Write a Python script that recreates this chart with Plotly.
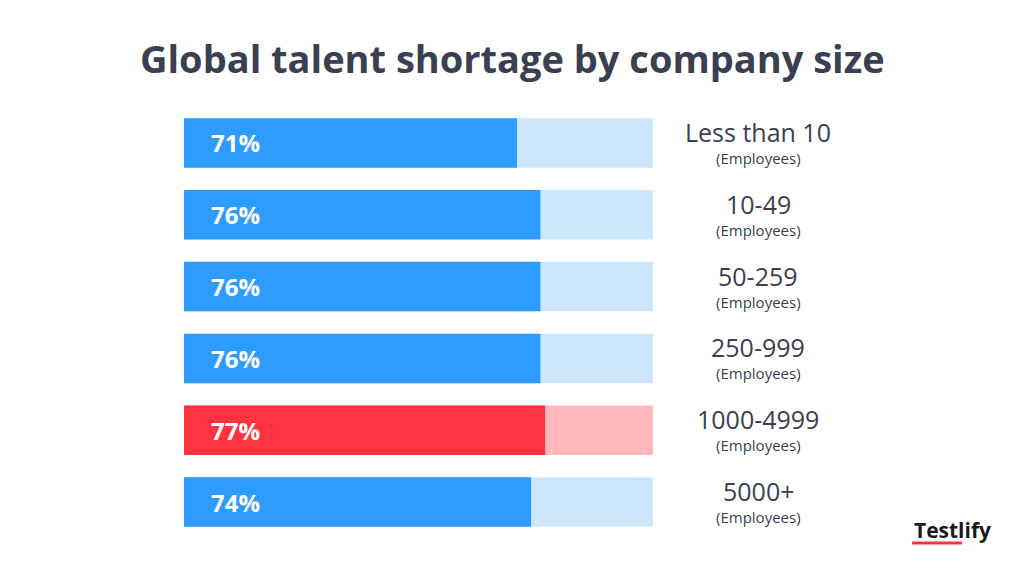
import plotly.graph_objects as go

sizes = ["Less than 10", "10-49", "50-259", "250-999", "1000-4999", "5000+"]
shares = [71, 76, 76, 76, 77, 74]
highlight = "1000-4999"

W, H = 1024, 576
OFF = 8  # page margin of the browser
px = lambda v: (v - OFF) / W
py = lambda v: 1 - (v - OFF) / H

fg = ["#ff333f" if s == highlight else "#2e9bff" for s in sizes]
bg = ["#ffb8bb" if s == highlight else "#cce6fd" for s in sizes]

fig = go.Figure()
fig.add_trace(go.Bar(y=sizes, x=[100] * len(sizes), orientation="h",
                     marker=dict(color=bg, line_width=0), width=0.69,
                     hoverinfo="skip"))
fig.add_trace(go.Bar(y=sizes, x=shares, orientation="h",
                     marker=dict(color=fg, line_width=0), width=0.69))

for s, v in zip(sizes, shares):
    fig.add_annotation(x=px(209), xref="paper", xanchor="left", y=s, yref="y",
                       text=f"<b>{v}%</b>", showarrow=False,
                       font=dict(family="Open Sans", size=24, color="white"))
    fig.add_annotation(x=px(758), xref="paper", xanchor="center", y=s, yref="y",
                       text=s, showarrow=False, yshift=11,
                       font=dict(family="Open Sans", size=25, color="#3a3f51"))
    fig.add_annotation(x=px(758), xref="paper", xanchor="center", y=s, yref="y",
                       text="(Employees)", showarrow=False, yshift=-15,
                       font=dict(family="Open Sans", size=15, color="#3a3f51"))

fig.add_annotation(x=px(512), y=py(58), xref="paper", yref="paper", showarrow=False,
                   xanchor="center", yanchor="middle",
                   text="<b>Global talent shortage by company size</b>",
                   font=dict(family="Open Sans", size=38, color="#3a3f51"))
fig.add_annotation(x=px(952), y=py(530), xref="paper", yref="paper", showarrow=False,
                   xanchor="center", yanchor="middle", text="<b>Testlify</b>",
                   font=dict(family="Open Sans", size=21, color="#1a1a1a"))
fig.add_shape(type="line", xref="paper", yref="paper",
              x0=px(912), x1=px(962), y0=py(543), y1=py(543),
              line=dict(color="#ff333f", width=3))

fig.update_layout(
    width=W, height=H, margin=dict(l=0, r=0, t=0, b=0),
    paper_bgcolor="white", plot_bgcolor="white",
    barmode="overlay", showlegend=False,
    xaxis=dict(domain=[px(184), px(653)], range=[0, 100], visible=False),
    yaxis=dict(domain=[py(538), py(107)], autorange="reversed", visible=False),
)

fig.write_html("out.html")
